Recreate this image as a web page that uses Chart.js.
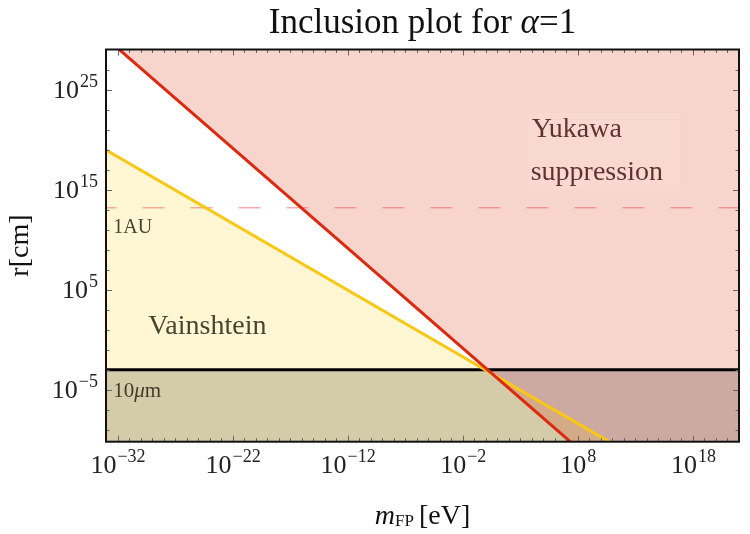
<!DOCTYPE html>
<html>
<head>
<meta charset="utf-8">
<script src="https://cdn.jsdelivr.net/npm/chart.js@4.4.0/dist/chart.umd.min.js"></script>
<style>
html, body { margin: 0; padding: 0; background: #fff; }
canvas { display: block; }
</style>
</head>
<body>
<canvas id="c" width="750" height="534"></canvas>
<script>
// axis limits
const xLimits = [1e-33, 1e22];
const yLimits = [Math.pow(10, -10.2), 1e29];

const yukawaMass = [1e-34, 1e22];
const yukawaR = [1.4e31, 1.4e-25];
const vainMass = [1e-34, 1e22];
const vainR = [4.2e19, 1.9e-18];

// horizontal reference lines
const flatMass = [1e-34, 1e22];
const tenMicronR = [1e-3, 1e-3];
const auR = [1.5e13, 1.5e13];

// labelled decades
const xMajor = [-32, -22, -12, -2, 8, 18];
const yMajor = [-5, 5, 15, 25];

const SERIF = '"Liberation Serif", "Times New Roman", serif';

function pts(xs, ys) {
    return xs.map((x, i) => ({ x: x, y: ys[i] }));
}

// text placed in data coordinates (log10 of m, log10 of r)
const notes = [
    { text: 'Yukawa', lx: 3.99, lr: 20.25, size: 28, color: 'rgba(70,20,20,0.85)' },
    { text: 'suppression', lx: 3.9, lr: 15.95, size: 28, color: 'rgba(70,20,20,0.85)' },
    { text: 'Vainshtein', lx: -29.33, lr: 0.55, size: 28, color: 'rgba(40,35,20,0.85)' },
    { text: '1AU', lx: -32.37, lr: 10.65, size: 20, color: 'rgba(40,35,20,0.85)' }
];

function supLabel(ctx, exp, x, y, align) {
    const base = '10';
    const e = String(exp).replace('-', '\u2212');
    ctx.font = '26px ' + SERIF;
    const wb = ctx.measureText(base).width;
    ctx.font = '18px ' + SERIF;
    const we = ctx.measureText(e).width;
    let x0 = align === 'center' ? x - (wb + we) / 2 : x - wb - we;
    ctx.textAlign = 'left';
    ctx.textBaseline = 'alphabetic';
    ctx.font = '26px ' + SERIF;
    ctx.fillText(base, x0, y);
    ctx.font = '18px ' + SERIF;
    ctx.fillText(e, x0 + wb + 1, y - 11);
}

const decor = {
    id: 'decor',
    afterDatasetsDraw(chart) {
        const ctx = chart.ctx;
        const a = chart.chartArea;
        const xs = chart.scales.x, ys = chart.scales.y;
        const px = l => xs.getPixelForValue(Math.pow(10, l));
        const py = l => ys.getPixelForValue(Math.pow(10, l));
        ctx.save();

        // faint box behind the Yukawa text
        ctx.fillStyle = 'rgba(255,235,230,0.12)';
        ctx.fillRect(px(3.65), py(22.7), 153, 78);

        notes.forEach(n => {
            ctx.font = n.size + 'px ' + SERIF;
            ctx.fillStyle = n.color;
            ctx.textAlign = 'left';
            ctx.textBaseline = 'alphabetic';
            ctx.fillText(n.text, px(n.lx), py(n.lr));
        });

        // 10 μm label
        let tx = px(-32.37), ty = py(-5.75);
        ctx.fillStyle = 'rgba(40,35,20,0.85)';
        ctx.font = '21px ' + SERIF;
        ctx.fillText('10', tx, ty);
        tx += ctx.measureText('10').width;
        ctx.font = 'italic 21px ' + SERIF;
        ctx.fillText('\u03bc', tx, ty);
        tx += ctx.measureText('\u03bc').width;
        ctx.font = '21px ' + SERIF;
        ctx.fillText('m', tx, ty);

        // ticks on all four sides, pointing in
        ctx.strokeStyle = '#666';
        ctx.lineWidth = 1;
        ctx.beginPath();
        for (let l = -33; l <= 22; l++) {
            const len = xMajor.includes(l) ? 6 : 3.5;
            const x = Math.round(px(l)) + 0.5;
            ctx.moveTo(x, a.bottom); ctx.lineTo(x, a.bottom - len);
            ctx.moveTo(x, a.top); ctx.lineTo(x, a.top + len);
        }
        for (let l = -9; l <= 27; l += 2) {
            const len = yMajor.includes(l) ? 6 : 3.5;
            const y = Math.round(py(l)) + 0.5;
            ctx.moveTo(a.left, y); ctx.lineTo(a.left + len, y);
            ctx.moveTo(a.right, y); ctx.lineTo(a.right - len, y);
        }
        ctx.stroke();

        // frame
        ctx.strokeStyle = '#111';
        ctx.lineWidth = 2;
        ctx.strokeRect(a.left, a.top, a.right - a.left, a.bottom - a.top);

        // tick labels
        ctx.fillStyle = '#222';
        xMajor.forEach(l => supLabel(ctx, l, px(l), a.bottom + 31, 'center'));
        yMajor.forEach(l => supLabel(ctx, l, a.left - 9, py(l) + 8, 'right'));

        // title
        const cx = (a.left + a.right) / 2;
        ctx.fillStyle = '#111';
        ctx.font = '35px ' + SERIF;
        const t1 = 'Inclusion plot for ';
        const w1 = ctx.measureText(t1).width;
        ctx.font = 'italic 35px ' + SERIF;
        const w2 = ctx.measureText('\u03b1').width;
        ctx.font = '35px ' + SERIF;
        const w3 = ctx.measureText('=1').width;
        let sx = cx - (w1 + w2 + w3) / 2;
        ctx.fillText(t1, sx, 33);
        ctx.font = 'italic 35px ' + SERIF;
        ctx.fillText('\u03b1', sx + w1, 33);
        ctx.font = '35px ' + SERIF;
        ctx.fillText('=1', sx + w1 + w2, 33);

        // x axis title: m_FP [eV]
        ctx.font = 'italic 28px ' + SERIF;
        const wm = ctx.measureText('m').width;
        ctx.font = '17px ' + SERIF;
        const wf = ctx.measureText('FP').width;
        ctx.font = '28px ' + SERIF;
        const we = ctx.measureText('[eV]').width;
        sx = cx - (wm + wf + 5 + we) / 2;
        const by = 524;
        ctx.font = 'italic 28px ' + SERIF;
        ctx.fillText('m', sx, by);
        ctx.font = '17px ' + SERIF;
        ctx.fillText('FP', sx + wm, by + 2);
        ctx.font = '28px ' + SERIF;
        ctx.fillText('[eV]', sx + wm + wf + 5, by);

        // y axis title
        ctx.translate(28, (a.top + a.bottom) / 2);
        ctx.rotate(-Math.PI / 2);
        ctx.textAlign = 'center';
        ctx.font = '28px ' + SERIF;
        ctx.fillText('r[cm]', 0, 0);
        ctx.restore();
    }
};

new Chart(document.getElementById('c'), {
    type: 'scatter',
    data: {
        datasets: [
            {
                data: pts(yukawaMass, yukawaR),
                showLine: true, borderColor: '#dc2a10', borderWidth: 3,
                fill: 'end', backgroundColor: 'rgba(215,40,0,0.2)',
                pointRadius: 0, clip: 0
            },
            {
                data: pts(vainMass, vainR),
                showLine: true, borderColor: '#fac814', borderWidth: 3,
                fill: 'start', backgroundColor: 'rgba(255,210,40,0.2)',
                pointRadius: 0, clip: 0
            },
            {
                data: pts(flatMass, tenMicronR),
                showLine: true, borderColor: '#000', borderWidth: 3,
                fill: 'start', backgroundColor: 'rgba(40,40,40,0.25)',
                pointRadius: 0, clip: 0
            },
            {
                data: pts(flatMass, auR),
                showLine: true, borderColor: 'rgba(240,100,100,0.8)', borderWidth: 1,
                borderDash: [22, 26], fill: false,
                pointRadius: 0, clip: 0
            }
        ]
    },
    options: {
        responsive: false,
        animation: false,
        events: [],
        layout: { padding: { left: 106, right: 11, top: 49.5, bottom: 92.3 } },
        scales: {
            x: { type: 'logarithmic', min: xLimits[0], max: xLimits[1], display: false },
            y: { type: 'logarithmic', min: yLimits[0], max: yLimits[1], display: false }
        },
        plugins: {
            legend: { display: false },
            tooltip: { enabled: false },
            filler: { drawTime: 'beforeDatasetsDraw' }
        }
    },
    plugins: [decor]
});
</script>
</body>
</html>
